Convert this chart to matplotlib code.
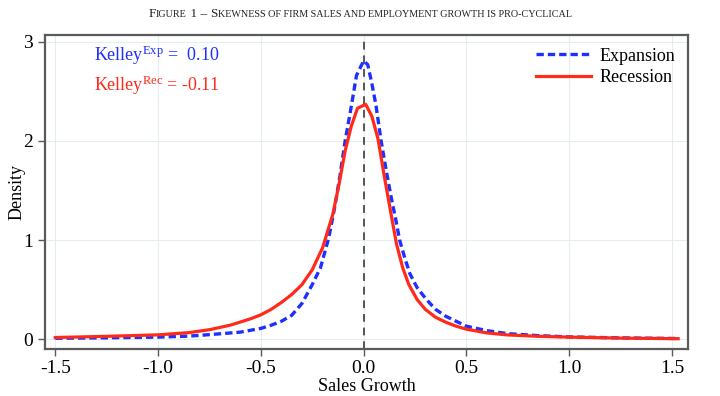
import matplotlib
matplotlib.use("Agg")
import matplotlib.pyplot as plt

plt.rcParams['font.family'] = ['Liberation Serif', 'DejaVu Serif']
plt.rcParams['mathtext.fontset'] = 'custom'
plt.rcParams['mathtext.rm'] = 'Liberation Serif'
plt.rcParams['mathtext.it'] = 'Liberation Serif:italic'

# Data
x_rec = [-1.5, -1.25, -1.0, -0.85, -0.75, -0.65, -0.6, -0.55, -0.5, -0.45, -0.4, -0.35, -0.3,
         -0.25, -0.2, -0.15, -0.12, -0.09, -0.06, -0.03, 0.01, 0.04, 0.07, 0.10, 0.13,
         0.16, 0.19, 0.22, 0.26, 0.30, 0.35, 0.40, 0.45, 0.5, 0.6, 0.7, 0.85, 1.0, 1.25, 1.53]
y_rec = [0.016, 0.028, 0.043, 0.065, 0.095, 0.14, 0.172, 0.205, 0.245, 0.30, 0.37, 0.45, 0.55,
         0.70, 0.92, 1.26, 1.56, 1.90, 2.15, 2.33, 2.37, 2.25, 2.02, 1.65, 1.30,
         0.96, 0.72, 0.55, 0.40, 0.30, 0.22, 0.17, 0.13, 0.10, 0.062, 0.042, 0.028, 0.02, 0.01, 0.004]

x_exp = [-1.5, -1.25, -1.0, -0.85, -0.75, -0.6, -0.5, -0.45, -0.4, -0.35, -0.3, -0.25,
         -0.21, -0.17, -0.14, -0.115, -0.09, -0.06, -0.035, 0.0, 0.02, 0.04, 0.06, 0.085,
         0.11, 0.135, 0.155, 0.175, 0.2, 0.225, 0.26, 0.305, 0.35, 0.4, 0.45, 0.5, 0.6,
         0.7, 0.85, 1.0, 1.25, 1.53]
y_exp = [0.008, 0.013, 0.02, 0.03, 0.045, 0.07, 0.108, 0.14, 0.18, 0.24, 0.36, 0.55,
         0.72, 1.02, 1.34, 1.65, 2.0, 2.35, 2.66, 2.81, 2.77, 2.58, 2.36, 2.0,
         1.70, 1.42, 1.22, 1.0, 0.82, 0.66, 0.52, 0.40, 0.30, 0.23, 0.18, 0.13, 0.085,
         0.055, 0.035, 0.022, 0.012, 0.006]

xticks = [-1.5, -1.0, -0.5, 0.0, 0.5, 1.0, 1.5]
xticklabels = ['-1.5', '-1.0', '-0.5', '0.0', '0.5', '1.0', '1.5']
yticks = [0, 1, 2, 3]
kelley_exp = "0.10"
kelley_rec = "-0.11"

fig = plt.figure(figsize=(7.2, 3.96), dpi=100)
ax = fig.add_axes([0.0625, 0.1187, 0.8931, 0.7929])

ax.set_xlim(-1.55, 1.578)
ax.set_ylim(-0.1, 3.07)
ax.set_xticks(xticks)
ax.set_xticklabels(xticklabels)
ax.set_yticks(yticks)
ax.grid(True, color='#e6edf1', linewidth=0.8)
ax.set_axisbelow(True)

ax.axvline(0, color='#555555', lw=1.4, dashes=(4, 3), zorder=2)
ax.plot(x_exp, y_exp, color='#1f2fff', lw=2.4, dashes=(2.2, 1.2), label='Expansion', zorder=3)
ax.plot(x_rec, y_rec, color='#ff2a1a', lw=2.3, label='Recession', zorder=4)

for s in ax.spines.values():
    s.set_color('#5a5a5a')
    s.set_linewidth(1.6)
ax.tick_params(axis='both', labelsize=14, color='#5a5a5a', length=5, width=1.0, direction='out')
ax.tick_params(axis='x', pad=3)
ax.set_xlabel('Sales Growth', fontsize=13, labelpad=1)
ax.set_ylabel('Density', fontsize=13)
ax.yaxis.set_label_coords(-0.031, 0.5)

leg = ax.legend(loc='upper right', frameon=False, fontsize=13, handlelength=3.0,
                handletextpad=0.5, labelspacing=0.25, borderaxespad=0.3)

ax.text(-1.31, 2.87, r"Kelley$^{\mathrm{Exp}}$ =  " + kelley_exp, color='#1f2fff',
        fontsize=13, va='center', ha='left')
ax.text(-1.31, 2.56, r"Kelley$^{\mathrm{Rec}}$ = " + kelley_rec, color='#ff2a1a',
        fontsize=13, va='center', ha='left')

# Small-caps title
pieces = [("F", 9.5), ("IGURE", 7.3), (" 1 – ", 9.5), ("S", 9.5),
          ("KEWNESS OF FIRM SALES AND EMPLOYMENT GROWTH IS PRO-CYCLICAL", 7.3)]
renderer = fig.canvas.get_renderer()
texts = []
for s, fs in pieces:
    t = fig.text(0, 0, s, fontsize=fs, ha='left', va='baseline', color='#222222')
    texts.append(t)
widths = [t.get_window_extent(renderer).width for t in texts]
total = sum(widths)
x0 = (720 - total) / 2.0
ybase = 396 - 17
for t, w in zip(texts, widths):
    t.set_position((x0 / 720.0, ybase / 396.0))
    x0 += w

fig.savefig('out.png', dpi=100)
